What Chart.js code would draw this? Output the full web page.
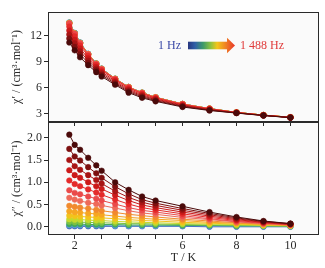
<!DOCTYPE html>
<html>
<head>
<meta charset="utf-8">
<script src="https://cdn.jsdelivr.net/npm/chart.js@4/dist/chart.umd.min.js"></script>
<style>
  html, body { margin: 0; padding: 0; background: #fff; }
  #wrap { position: relative; width: 325px; height: 268px; }
  #top-wrap { position: absolute; left: 0; top: 0; width: 325px; height: 132px; z-index: 2; }
  #bot-wrap { position: absolute; left: 0; top: 112px; width: 325px; height: 156px; z-index: 1; }
</style>
</head>
<body>
<div id="wrap">
  <div id="top-wrap"><canvas id="chi-real"></canvas></div>
  <div id="bot-wrap"><canvas id="chi-imag"></canvas></div>
</div>
<script>
// temperatures (K) shared by every frequency
const TEMPS = [1.8, 2.0, 2.2, 2.5, 2.8, 3.0, 3.5, 4.0, 4.5, 5.0, 6.0, 7.0, 8.0, 9.0, 10.0]

// ac frequencies, low → high (only the ends are labelled in the figure)
const FREQS = [1, 3, 6, 10, 18, 32, 56, 100, 180, 310, 500, 700, 950, 1200, 1488]

const COLORS = [
  '#3b5bb5', '#5a9bd8', '#3fa85a', '#7cc142', '#c5d92c',
  '#f2c31b', '#f6a623', '#f18a2e', '#ee6a5a', '#ea4a4a',
  '#e42a2a', '#cc1a1a', '#a81414', '#7d1010', '#4a0a0a',
]

// chi' (cm3 mol-1), one row per frequency
const CHI_REAL = [
  [13.5, 12.3, 11.2, 9.9, 8.8, 8.2, 7.05, 6.1, 5.45, 4.92, 4.15, 3.62, 3.18, 2.87, 2.62],
  [13.48, 12.28, 11.19, 9.89, 8.79, 8.19, 7.04, 6.1, 5.44, 4.92, 4.15, 3.62, 3.18, 2.87, 2.62],
  [13.47, 12.27, 11.18, 9.88, 8.79, 8.19, 7.04, 6.09, 5.44, 4.91, 4.15, 3.62, 3.18, 2.87, 2.62],
  [13.45, 12.25, 11.16, 9.87, 8.78, 8.18, 7.03, 6.09, 5.44, 4.91, 4.14, 3.61, 3.18, 2.87, 2.62],
  [13.44, 12.24, 11.15, 9.86, 8.77, 8.17, 7.03, 6.08, 5.43, 4.91, 4.14, 3.61, 3.18, 2.87, 2.62],
  [13.42, 12.22, 11.13, 9.85, 8.76, 8.16, 7.02, 6.08, 5.43, 4.9, 4.14, 3.61, 3.18, 2.87, 2.62],
  [13.4, 12.2, 11.12, 9.84, 8.75, 8.15, 7.01, 6.07, 5.42, 4.9, 4.13, 3.61, 3.17, 2.87, 2.62],
  [13.37, 12.18, 11.1, 9.82, 8.74, 8.14, 7.0, 6.06, 5.41, 4.89, 4.13, 3.6, 3.17, 2.86, 2.61],
  [13.43, 12.24, 11.15, 9.86, 8.77, 8.17, 7.03, 6.08, 5.43, 4.9, 4.13, 3.61, 3.17, 2.87, 2.62],
  [13.38, 12.19, 11.1, 9.82, 8.74, 8.14, 7.0, 6.06, 5.41, 4.89, 4.13, 3.6, 3.17, 2.86, 2.61],
  [13.04, 11.9, 10.86, 9.64, 8.6, 8.02, 6.91, 5.97, 5.33, 4.83, 4.08, 3.58, 3.17, 2.86, 2.61],
  [12.58, 11.5, 10.52, 9.38, 8.4, 7.84, 6.77, 5.84, 5.21, 4.73, 4.01, 3.53, 3.15, 2.85, 2.6],
  [12.12, 11.1, 10.18, 9.12, 8.2, 7.66, 6.63, 5.71, 5.09, 4.64, 3.94, 3.49, 3.13, 2.84, 2.6],
  [11.66, 10.7, 9.84, 8.86, 8.0, 7.48, 6.49, 5.58, 4.97, 4.54, 3.87, 3.44, 3.12, 2.83, 2.59],
  [11.2, 10.3, 9.5, 8.6, 7.8, 7.3, 6.35, 5.45, 4.85, 4.45, 3.8, 3.4, 3.1, 2.82, 2.58],
]

// chi'' (cm3 mol-1), one row per frequency
const CHI_IMAG = [
  [0.01, 0.01, 0.01, 0.01, 0.01, 0.01, 0.01, 0.01, 0.01, 0.01, 0.01, 0.0, 0.0, 0.0, 0.0],
  [0.03, 0.03, 0.03, 0.03, 0.03, 0.03, 0.02, 0.02, 0.02, 0.02, 0.02, 0.02, 0.01, 0.01, 0.01],
  [0.06, 0.06, 0.06, 0.05, 0.05, 0.05, 0.05, 0.04, 0.04, 0.04, 0.03, 0.03, 0.02, 0.02, 0.01],
  [0.11, 0.1, 0.1, 0.1, 0.09, 0.09, 0.08, 0.07, 0.07, 0.06, 0.05, 0.04, 0.03, 0.02, 0.02],
  [0.17, 0.16, 0.16, 0.15, 0.14, 0.14, 0.12, 0.11, 0.1, 0.09, 0.07, 0.06, 0.05, 0.03, 0.02],
  [0.25, 0.24, 0.23, 0.22, 0.21, 0.2, 0.18, 0.16, 0.14, 0.13, 0.1, 0.08, 0.06, 0.04, 0.03],
  [0.35, 0.33, 0.32, 0.3, 0.29, 0.27, 0.24, 0.21, 0.19, 0.17, 0.14, 0.1, 0.08, 0.05, 0.03],
  [0.47, 0.45, 0.43, 0.41, 0.38, 0.36, 0.32, 0.28, 0.25, 0.22, 0.17, 0.13, 0.09, 0.06, 0.04],
  [0.65, 0.61, 0.58, 0.54, 0.51, 0.48, 0.42, 0.36, 0.31, 0.28, 0.21, 0.16, 0.11, 0.07, 0.04],
  [0.82, 0.76, 0.73, 0.68, 0.63, 0.59, 0.51, 0.43, 0.37, 0.33, 0.25, 0.18, 0.12, 0.08, 0.05],
  [1.04, 0.96, 0.91, 0.84, 0.77, 0.72, 0.61, 0.51, 0.43, 0.38, 0.29, 0.21, 0.14, 0.09, 0.05],
  [1.27, 1.16, 1.1, 1.0, 0.91, 0.85, 0.71, 0.59, 0.49, 0.43, 0.33, 0.24, 0.16, 0.1, 0.06],
  [1.5, 1.36, 1.28, 1.16, 1.05, 0.97, 0.8, 0.66, 0.55, 0.48, 0.37, 0.27, 0.18, 0.11, 0.06],
  [1.75, 1.58, 1.49, 1.34, 1.2, 1.1, 0.9, 0.74, 0.61, 0.53, 0.41, 0.3, 0.2, 0.12, 0.07],
  [2.07, 1.84, 1.73, 1.55, 1.38, 1.26, 1.0, 0.83, 0.68, 0.59, 0.46, 0.33, 0.22, 0.13, 0.07],
]

// tick positions (major ones get labels)
const X_TICKS = [2, 3, 4, 5, 6, 7, 8, 9, 10]
const Y_REAL_TICKS = [3, 4.5, 6, 7.5, 9, 10.5, 12, 13.5]
const Y_IMAG_TICKS = [0, 0.25, 0.5, 0.75, 1.0, 1.25, 1.5, 1.75, 2.0, 2.25]

const SERIF = '"Liberation Serif", "Times New Roman", serif'
const INK = '#2a2a2a'
Chart.defaults.font.family = SERIF
Chart.defaults.font.size = 12
Chart.defaults.color = INK

// plot-area tint + closed frame around each panel
const frame = {
  id: 'frame',
  beforeDraw(chart) {
    const { ctx, chartArea: a } = chart
    ctx.save()
    ctx.fillStyle = '#fafafa'
    ctx.fillRect(a.left, a.top, a.right - a.left, a.bottom - a.top)
    ctx.restore()
  },
  afterDraw(chart) {
    const { ctx, chartArea: a } = chart
    ctx.save()
    ctx.strokeStyle = INK
    ctx.lineWidth = 1
    const l = Math.round(a.left) + 0.5, t = Math.round(a.top) + 0.5
    const r = Math.round(a.right) - 0.5, b = Math.round(a.bottom) - 0.5
    ctx.strokeRect(l, t, r - l, b - t)
    ctx.restore()
  },
}

// "1 Hz ▬▶ 1 488 Hz" gradient arrow key
const freqKey = {
  id: 'freqKey',
  afterDraw(chart) {
    const { ctx } = chart
    const y = 45.5, x0 = 188, x1 = 227, tip = 235
    ctx.save()
    ctx.font = `12px ${SERIF}`
    ctx.textBaseline = 'middle'
    ctx.textAlign = 'right'
    ctx.fillStyle = '#3a49a6'
    ctx.fillText(`${FREQS[0]} Hz`, 181, y)
    const g = ctx.createLinearGradient(x0, 0, tip, 0)
    g.addColorStop(0, '#27367f')
    g.addColorStop(0.15, '#2f5fa8')
    g.addColorStop(0.32, '#3d9a6a')
    g.addColorStop(0.48, '#8cc23e')
    g.addColorStop(0.62, '#f3c619')
    g.addColorStop(0.78, '#f08a22')
    g.addColorStop(1, '#e8352a')
    ctx.fillStyle = g
    ctx.fillRect(x0, y - 3.8, x1 - x0, 7.6)
    ctx.beginPath()
    ctx.moveTo(x1, y - 7.8)
    ctx.lineTo(tip, y)
    ctx.lineTo(x1, y + 7.8)
    ctx.closePath()
    ctx.fill()
    ctx.textAlign = 'left'
    ctx.fillStyle = '#e03a3a'
    ctx.fillText('1 488 Hz', 240, y)
    ctx.restore()
  },
}

// higher frequencies are painted over lower ones
function makeSets(rows) {
  return rows.map((row, i) => ({
    label: `${FREQS[i]} Hz`,
    data: row.map((v, j) => ({ x: TEMPS[j], y: v })),
    order: rows.length - i,
    borderColor: COLORS[i],
    backgroundColor: COLORS[i],
    pointBorderColor: COLORS[i],
    borderWidth: 1,
    pointRadius: 2.8,
    pointBorderWidth: 0.5,
    tension: 0,
  }))
}

const tickGrid = { drawOnChartArea: false, drawTicks: true, tickLength: 4, tickColor: INK, tickWidth: 1 }

function xScale(showLabels) {
  return {
    type: 'linear',
    min: 1.01,
    max: 11.06,
    border: { display: false },
    grid: tickGrid,
    afterBuildTicks: s => { s.ticks = X_TICKS.map(v => ({ value: v })) },
    afterFit: s => { s.height = showLabels ? 33 : 10 },
    ticks: {
      display: showLabels,
      padding: 0,
      color: INK,
      callback: v => (v % 2 === 0 ? String(v) : ''),
    },
    title: {
      display: showLabels,
      text: 'T / K',
      color: INK,
      font: { size: 12, family: SERIF },
      padding: { top: 0, bottom: 3 },
    },
  }
}

function yScale(min, max, tickVals, label, title) {
  return {
    min, max,
    border: { display: false },
    grid: tickGrid,
    afterBuildTicks: s => { s.ticks = tickVals.map(v => ({ value: v })) },
    afterFit: s => { s.width = 48 },
    ticks: { padding: 2, color: INK, callback: label },
    title: {
      display: true,
      text: title,
      color: INK,
      font: { size: 12, family: SERIF },
      padding: { top: 10, bottom: 0 },
    },
  }
}

const baseOptions = {
  responsive: true,
  maintainAspectRatio: false,
  animation: false,
  plugins: { legend: { display: false }, tooltip: { enabled: false } },
}

new Chart(document.getElementById('chi-real'), {
  type: 'line',
  data: { datasets: makeSets(CHI_REAL) },
  options: {
    ...baseOptions,
    layout: { padding: { top: 12, right: 6, bottom: 0, left: 0 } },
    scales: {
      x: xScale(false),
      y: yScale(2.08, 14.7, Y_REAL_TICKS, v => (v % 3 === 0 ? String(v) : ''), 'χ′ / (cm³·mol⁻¹)'),
    },
  },
  plugins: [frame, freqKey],
})

new Chart(document.getElementById('chi-imag'), {
  type: 'line',
  data: { datasets: makeSets(CHI_IMAG) },
  options: {
    ...baseOptions,
    layout: { padding: { top: 10, right: 6, bottom: 0, left: 0 } },
    scales: {
      x: xScale(true),
      y: yScale(-0.185, 2.354, Y_IMAG_TICKS,
        v => (Math.abs(v * 2 - Math.round(v * 2)) < 1e-6 ? v.toFixed(1) : ''),
        'χ″ / (cm³·mol⁻¹)'),
    },
  },
  plugins: [frame],
})
</script>
</body>
</html>
